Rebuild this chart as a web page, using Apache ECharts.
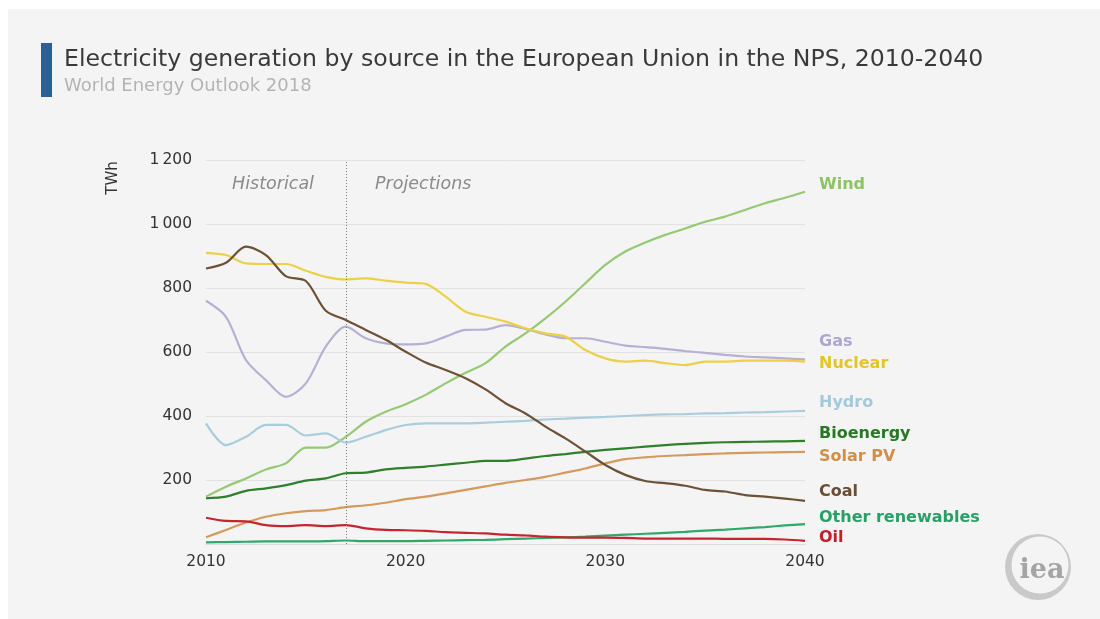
<!DOCTYPE html>
<html>
<head>
<meta charset="utf-8">
<script src="https://cdn.jsdelivr.net/npm/echarts@6/dist/echarts.min.js"></script>
<style>
html,body{margin:0;padding:0;background:#fff;}
#bg{position:absolute;left:8px;top:9px;width:1092px;height:610px;background:#f4f4f4;}
#main{position:absolute;left:0;top:0;width:1100px;height:619px;}
</style>
</head>
<body>
<div id="bg"></div>
<div id="main"></div>
<script>
const years = [];
for (let y = 2010; y <= 2040; y++) years.push(String(y));

const wind    = [148,179,205,233,252,301,301,335,382,413,437,466,502,535,565,617,658,705,757,815,872,914,942,966,986,1007,1023,1044,1065,1082,1101];
const gas     = [760,710,575,512,460,502,617,679,643,627,624,627,648,669,670,684,672,655,643,643,632,620,615,610,603,597,591,586,583,580,577];
const nuclear = [910,903,877,875,875,854,835,827,830,823,817,813,773,726,710,695,674,658,648,606,580,570,573,565,559,570,570,573,573,573,570];
const hydro   = [377,309,335,372,372,339,346,317,335,356,372,377,377,377,379,382,385,389,392,395,397,400,403,405,406,408,409,411,412,414,416];
const bioenergy=[143,148,166,174,184,198,205,221,223,233,238,242,248,254,260,260,267,275,281,288,294,299,304,309,313,316,318,319,320,321,322];
const solarPV = [21,44,67,85,96,103,106,115,121,129,140,148,158,169,180,191,200,210,223,236,252,265,271,275,278,281,283,285,286,287,288];
const coal    = [861,879,929,903,837,822,729,700,669,638,601,567,544,518,483,440,408,367,330,289,247,216,197,190,182,169,164,153,148,142,135];
const otherRen= [5,6,7,8,8,8,9,11,9,9,9,10,11,12,13,15,17,19,21,23,26,29,32,35,38,42,45,49,53,58,62];
const oil     = [82,72,71,59,56,59,56,59,49,44,43,41,37,35,33,29,27,23,21,20,20,19,17,17,17,17,16,16,16,14,10];

const yTicks = [0,200,400,600,800,1000,1200];
const periodLabels = ['Historical','Projections'];
const projectionStart = '2017';

const seriesDefs = [
  {name:'Wind', data:wind, color:'#95c973', label:'#8cc363', ly:185},
  {name:'Gas', data:gas, color:'#b6b0d4', label:'#ada7cf', ly:342},
  {name:'Nuclear', data:nuclear, color:'#ecd047', label:'#e3c52a', ly:364},
  {name:'Hydro', data:hydro, color:'#a9cddd', label:'#a3c9dc', ly:403},
  {name:'Bioenergy', data:bioenergy, color:'#2f7f2c', label:'#267a22', ly:434},
  {name:'Solar PV', data:solarPV, color:'#d39a5c', label:'#cf8f4c', ly:457},
  {name:'Coal', data:coal, color:'#6d5136', label:'#6a4c31', ly:492},
  {name:'Other renewables', data:otherRen, color:'#2fa86c', label:'#27a065', ly:518},
  {name:'Oil', data:oil, color:'#c4262f', label:'#c21f2a', ly:538}
];

const chart = echarts.init(document.getElementById('main'), null, {renderer:'canvas'});

const FONT = '"DejaVu Sans", "Noto Sans", sans-serif';

const series = seriesDefs.map((s, i) => ({
  name: s.name,
  type: 'line',
  data: s.data,
  showSymbol: false,
  smooth: 0.3,
  lineStyle: {color: s.color, width: 2.2},
  z: 3,
  markLine: i === 0 ? {
    silent: true,
    symbol: 'none',
    label: {show: false},
    lineStyle: {color: '#777', type: [1, 2], width: 1},
    data: [[{coord:[projectionStart, 0]}, {coord:[projectionStart, 1200]}]]
  } : undefined
}));

const graphics = [
  {type:'rect', shape:{x:41, y:43, width:11, height:54}, style:{fill:'#2e5e98'}},
  {type:'text', x:64, y:60, style:{text:'Electricity generation by source in the European Union in the NPS, 2010-2040', font:'400 23.6px ' + FONT, fill:'#3a3a3a', verticalAlign:'middle'}},
  {type:'text', x:64, y:86, style:{text:'World Energy Outlook 2018', font:'400 18px ' + FONT, fill:'#b4b4b4', verticalAlign:'middle'}},
  {type:'text', x:232, y:184, style:{text:periodLabels[0], font:'italic 400 17.5px ' + FONT, fill:'#8a8a8a', verticalAlign:'middle'}},
  {type:'text', x:375, y:184, style:{text:periodLabels[1], font:'italic 400 17.5px ' + FONT, fill:'#8a8a8a', verticalAlign:'middle'}},
  {type:'text', x:113, y:178, rotation:Math.PI/2, style:{text:'TWh', font:'400 15px ' + FONT, fill:'#333', align:'center', verticalAlign:'middle'}},
  {type:'circle', shape:{cx:1038, cy:567, r:33}, style:{fill:'#c9c9c9'}},
  {type:'circle', shape:{cx:1040, cy:565, r:28.5}, style:{fill:'#f4f4f4'}},
  {type:'text', x:1042, y:571, style:{text:'iea', font:'700 27px "DejaVu Serif", serif', fill:'#a5a5a5', align:'center', verticalAlign:'middle'}}
];
seriesDefs.forEach(s => {
  graphics.push({type:'text', x:819, y:s.ly, style:{text:s.name, font:'700 16px ' + FONT, fill:s.label, verticalAlign:'middle'}});
});

chart.setOption({
  backgroundColor: 'transparent',
  animation: false,
  grid: {left:206, right:295, top:160, bottom:75, containLabel:false},
  xAxis: {
    type:'category',
    data: years,
    boundaryGap:false,
    axisLine:{show:true, lineStyle:{color:'#dcdcdc', width:1}},
    axisTick:{show:false},
    axisLabel:{interval:9, color:'#333', fontSize:15.5, fontFamily:FONT, margin:10,
      formatter: v => v},
    splitLine:{show:false}
  },
  yAxis: {
    type:'value',
    min:yTicks[0], max:yTicks[yTicks.length-1], interval:200,
    axisLine:{show:false},
    axisTick:{show:false},
    axisLabel:{color:'#333', fontSize:15.5, fontFamily:FONT, margin:14,
      formatter: v => v === 0 ? '' : (v >= 1000 ? String(v).replace(/^(\d)(\d{3})$/, '$1\u2009$2') : String(v))},
    splitLine:{show:true, lineStyle:{color:'#e2e2e2', width:1}}
  },
  series: series,
  graphic: graphics
});
</script>
</body>
</html>
